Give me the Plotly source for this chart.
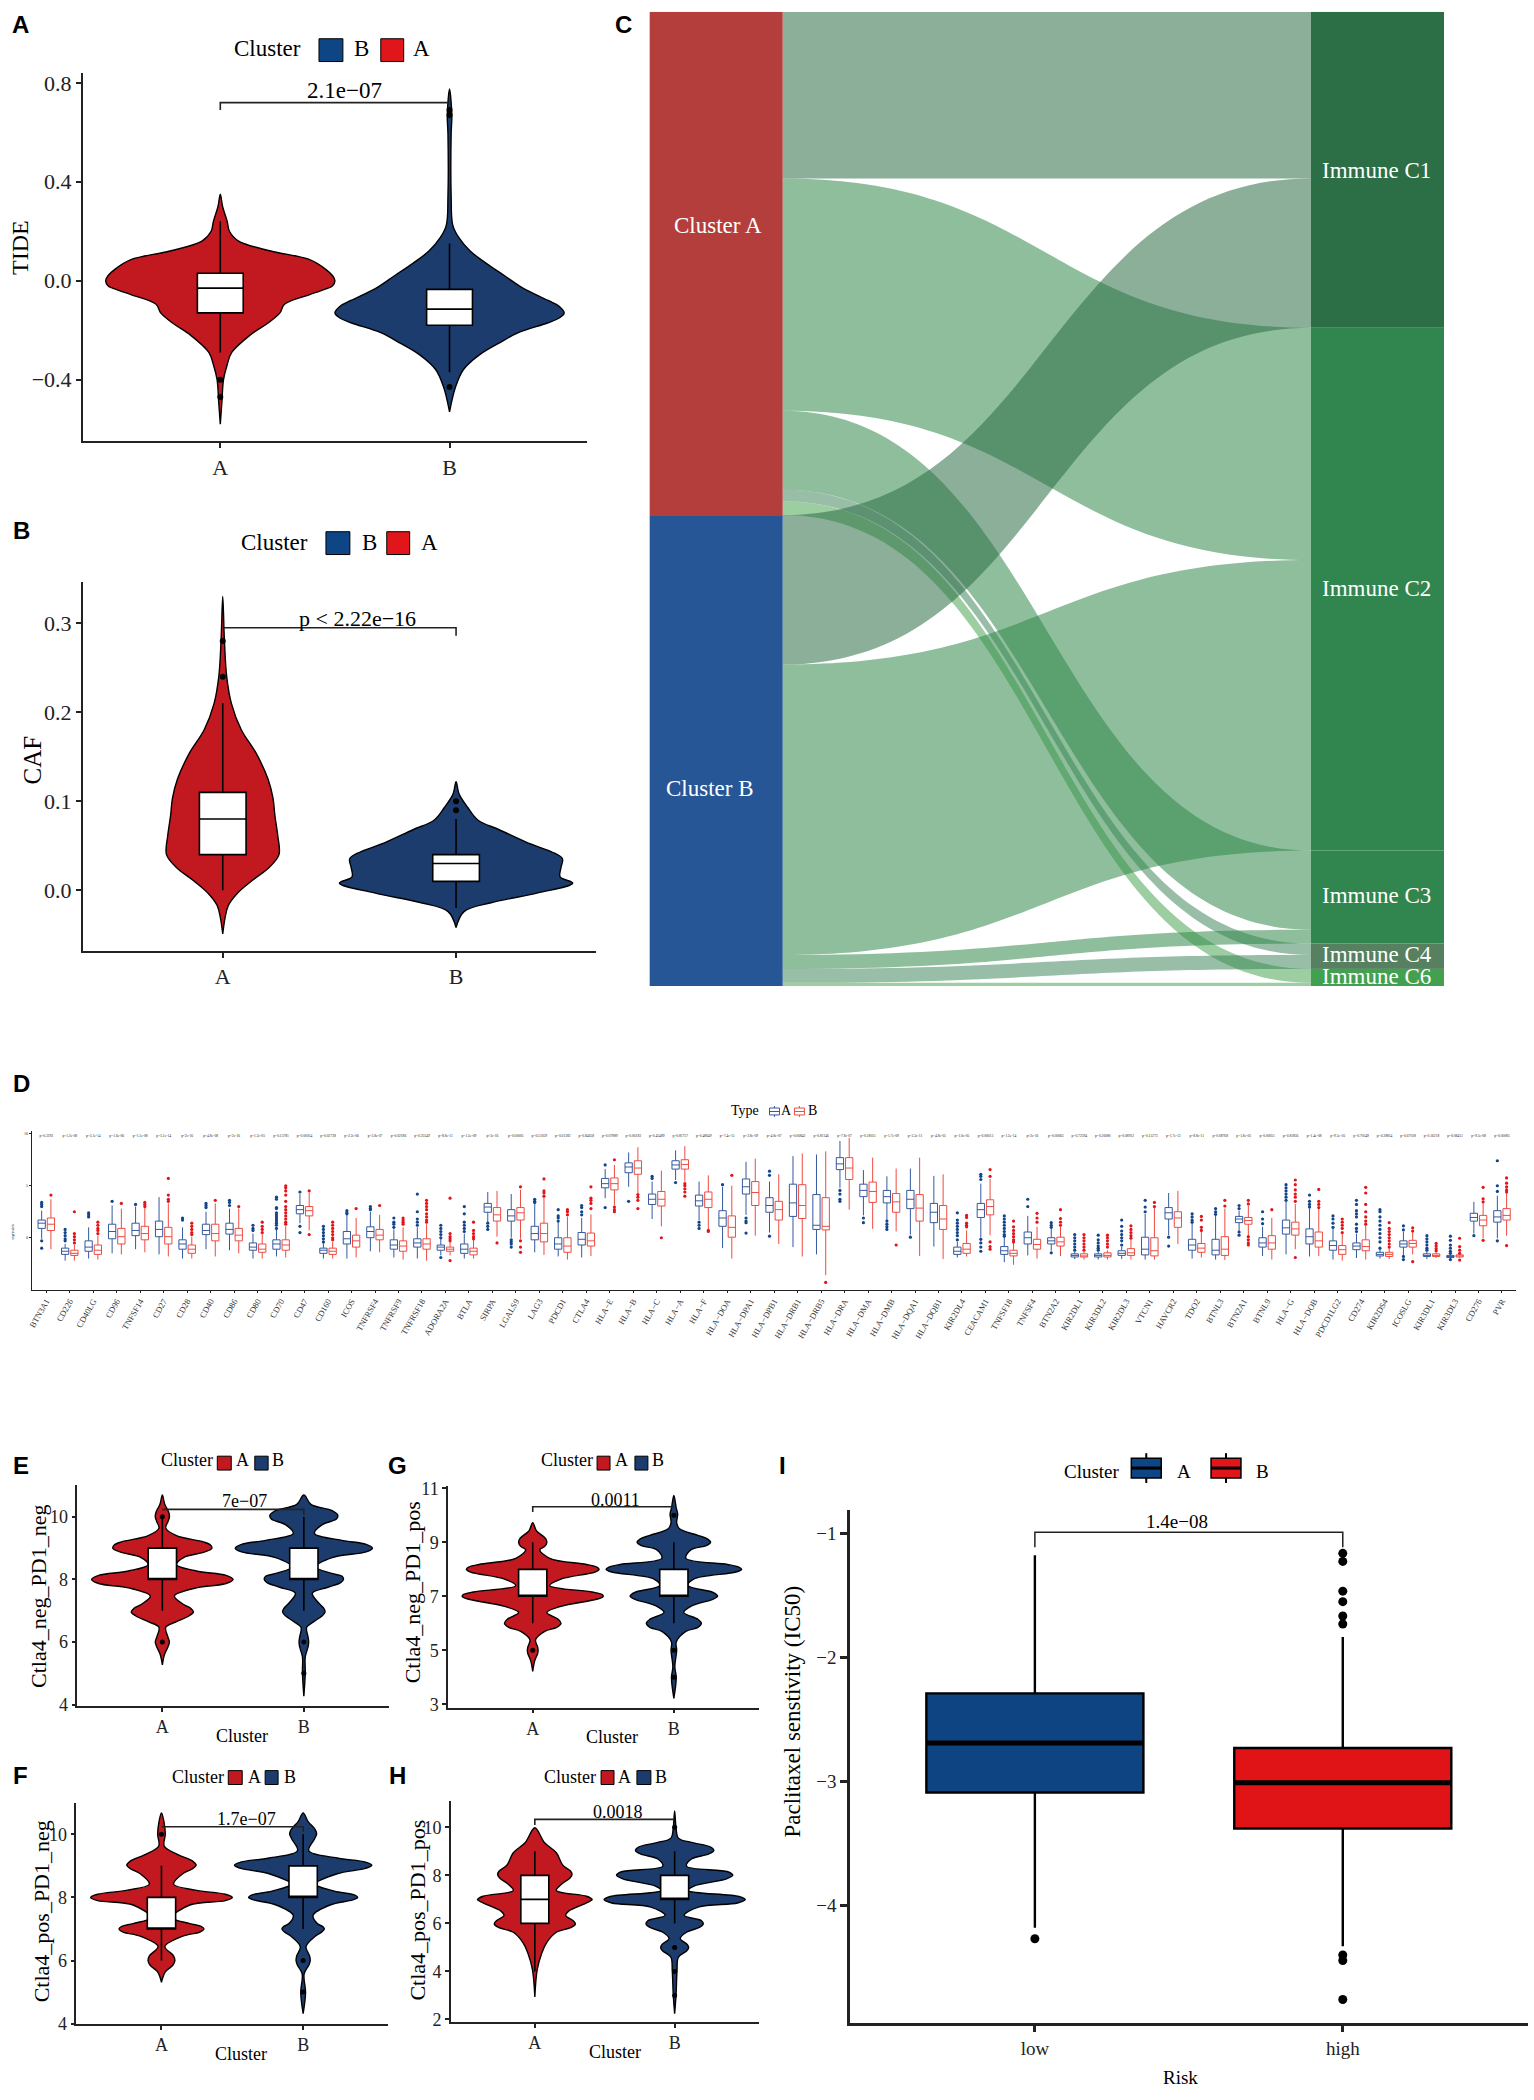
import plotly.graph_objects as go

W, H = 1534, 2100
SERIF = "Liberation Serif"
SANS = "Liberation Sans"
RED = "#C2181F"
NAVY = "#1D3C6E"
LEG_RED = "#E0161A"
LEG_BLUE = "#0E4585"

# ---------- Panel A (TIDE) ----------
A_A_Y = [.35, .30, .24, .20, .16, .12, .085, .046, .02, 0, -.02, -.04, -.056, -.095, -.13, -.17, -.22, -.29, -.34, -.40, -.49, -.58]
A_A_W = [0, .01, .03, .04, .08, .22, .39, .46, .49, .5, .49, .44, .39, .28, .26, .21, .13, .05, .03, .014, .007, 0]
A_B_Y = [.775, .67, .595, .34, .225, .175, .12, .07, .02, -.03, -.08, -.105, -.13, -.15, -.17, -.21, -.25, -.30, -.36, -.43, -.53]
A_B_W = [0, .01, .007, .007, .014, .04, .09, .16, .24, .32, .43, .48, .5, .48, .43, .3, .22, .13, .06, .026, 0]
A_BOX = [(.03, -.03, -.13, .24, -.29), (-.035, -.115, -.18, .15, -.37)]
A_OUT = [[-.40, -.47], [.67, .69, -.43]]

# ---------- Panel B (CAF) ----------
B_A_Y = [.33, .282, .24, .21, .18, .154, .125, .104, .083, .061, .04, .026, .011, -.003, -.017, -.031, -.049]
B_A_W = [0, .007, .017, .037, .08, .143, .194, .215, .224, .236, .241, .2, .126, .064, .024, .01, 0]
B_B_Y = [.122, .108, .093, .079, .068, .054, .036, .026, .015, .008, -.003, -.014, -.024, -.042]
B_B_W = [0, .013, .05, .093, .185, .3, .455, .45, .446, .5, .35, .15, .034, 0]
B_BOX = [(.11, .08, .04, .21, 0), (.04, .03, .01, .08, -.02)]
B_OUT = [[.28, .24], [.10, .09]]

# ---------- Panel E ----------
E_A_Y = [10.7, 10.4, 10.15, 10.0, 9.85, 9.64, 9.4, 9.2, 9.1, 9.0, 8.88, 8.7, 8.47, 8.27, 8.13, 8.0, 7.87, 7.73, 7.47, 7.2, 7.08, 6.96, 6.84, 6.65, 6.47, 6.15, 6.0, 5.85, 5.6, 5.27]
E_A_W = [0, .017, .045, .05, .04, .024, .1, .29, .34, .35, .3, .15, .1, .24, .45, .5, .45, .24, .085, .15, .2, .22, .19, .1, .024, .04, .05, .04, .015, 0]
E_B_Y = [10.7, 10.4, 10.2, 10.05, 9.93, 9.75, 9.47, 9.25, 9.12, 9, 8.88, 8.7, 8.4, 8.2, 8.1, 8, 7.9, 7.75, 7.56, 7.27, 7.08, 6.96, 6.84, 6.65, 6.47, 6.15, 6, 5.85, 5.53, 5.0, 4.27]
E_B_W = [0, .05, .2, .24, .23, .13, .075, .27, .44, .485, .44, .2, .085, .19, .27, .28, .26, .17, .06, .1, .14, .15, .13, .07, .02, .03, .034, .03, .01, .01, 0]
E_BOX = [(9, 8, 8, 10, 7), (9, 8, 8, 10, 7)]
E_OUT = [[6, 10], [6, 5]]

# ---------- Panel G ----------
G_A_Y = [9.73, 9.42, 9.15, 9, 8.85, 8.72, 8.41, 8.18, 8.08, 8, 7.9, 7.64, 7.4, 7.16, 7.07, 7, 6.9, 6.63, 6.4, 6.15, 6, 5.85, 5.7, 5.39, 5.12, 5, 4.88, 4.61, 4.22]
G_A_W = [0, .027, .09, .1, .085, .05, .12, .38, .455, .47, .44, .2, .12, .42, .49, .5, .46, .2, .1, .18, .2, .17, .085, .02, .035, .038, .035, .014, 0]
G_B_Y = [10.74, 10.27, 10.04, 9.73, 9.5, 9.26, 9.12, 9, 8.88, 8.72, 8.41, 8.18, 8.08, 8, 7.9, 7.64, 7.4, 7.16, 7.05, 7, 6.9, 6.63, 6.4, 6.15, 6, 5.85, 5.7, 5.31, 5, 4.38, 4, 3.22]
G_B_W = [0, .017, .027, .02, .04, .17, .24, .26, .23, .12, .085, .38, .46, .48, .44, .14, .1, .27, .305, .31, .28, .12, .07, .17, .195, .17, .085, .017, .02, .007, .017, 0]
G_BOX = [(8, 7, 7, 9, 6), (8, 7, 7, 9, 6)]
G_OUT = [[5], [10, 5, 4]]

# ---------- Panel F ----------
F_A_Y = [10.68, 10.41, 10.01, 9.62, 9.35, 9.15, 9.02, 8.9, 8.75, 8.42, 8.23, 8.1, 8, 7.9, 7.76, 7.36, 7.17, 7.08, 7, 6.9, 6.77, 6.44, 6.15, 6, 5.85, 5.64, 5.31]
F_A_W = [0, .017, .027, .02, .12, .22, .245, .215, .15, .085, .24, .45, .5, .45, .2, .075, .2, .28, .3, .27, .15, .024, .085, .095, .08, .027, 0]
F_B_Y = [10.68, 10.41, 10.15, 10.01, 9.85, 9.48, 9.25, 9.12, 9.02, 8.92, 8.75, 8.42, 8.2, 8.08, 8, 7.92, 7.76, 7.43, 7.17, 7.07, 7, 6.9, 6.77, 6.44, 6.15, 6, 5.85, 5.58, 4.98, 4.32]
F_B_W = [0, .034, .085, .095, .08, .04, .24, .44, .485, .44, .24, .085, .22, .36, .385, .35, .19, .07, .1, .14, .15, .13, .085, .02, .045, .05, .04, .007, .017, 0]
F_BOX = [(8, 7, 7, 9, 6), (9, 8, 8, 10, 7)]
F_OUT = [[10], [6, 5]]

# ---------- Panel H ----------
H_A_Y = [9.98, 9.37, 8.94, 8.42, 8.18, 8.03, 7.88, 7.63, 7.37, 7.13, 6.99, 6.85, 6.5, 6.33, 6.13, 5.98, 5.83, 5.63, 5.2, 4.77, 4.07, 2.94]
H_A_W = [0, .068, .154, .2, .255, .266, .25, .19, .154, .37, .41, .37, .24, .22, .27, .29, .26, .154, .085, .05, .017, 0]
H_B_Y = [10.68, 9.98, 9.55, 9.37, 9.17, 9.03, 8.88, 8.68, 8.38, 8.15, 8, 7.85, 7.55, 7.37, 7.12, 6.99, 6.85, 6.68, 6.33, 6.12, 5.98, 5.84, 5.63, 5.37, 5.12, 4.99, 4.85, 4.59, 4.02, 3.03, 2.24]
H_B_W = [0, .01, .027, .12, .26, .28, .24, .12, .085, .38, .416, .37, .137, .096, .46, .505, .45, .17, .068, .19, .205, .18, .085, .04, .09, .1, .085, .027, .017, .01, 0]
H_BOX = [(8, 7, 6, 9, 4), (8, 7, 7, 9, 6)]
H_OUT = [[], [10, 5, 4, 3]]

# ---------- Panel I ----------
I_BOX = [(-2.29, -2.69, -3.09, -1.175, -4.18), (-2.73, -3.01, -3.38, -1.835, -4.33)]
I_OUT = [[-4.27], [-1.16, -1.225, -1.465, -1.55, -1.665, -1.73, -4.40, -4.445, -4.76]]

# ---------- Panel C (alluvial) ----------
C_NODES = ["Cluster A", "Cluster B", "Immune C1", "Immune C2", "Immune C3", "Immune C4", "Immune C6"]
C_COLORS = ["#B43E3B", "#275697", "#2C6E45", "#30864E", "#30864E", "#568060", "#43A050"]
C_SOURCE = [0, 0, 0, 0, 0, 1, 1, 1, 1, 1]
C_TARGET = [2, 3, 4, 5, 6, 2, 3, 4, 5, 6]
C_VALUES = [263, 367, 125, 18, 22, 236, 459, 22, 22, 5]
C_LINK_COL = {2: "rgba(44,110,69,0.55)", 3: "rgba(49,136,75,0.55)", 4: "rgba(49,136,75,0.55)",
              5: "rgba(49,125,80,0.5)", 6: "rgba(75,166,83,0.55)"}

# ---------- Panel D ----------
GENES = ["BTN3A1", "CD226", "CD40LG", "CD96", "TNFSF14", "CD27", "CD28", "CD40", "CD86", "CD80", "CD70", "CD47",
         "CD160", "ICOS", "TNFRSF4", "TNFRSF9", "TNFRSF18", "ADORA2A", "BTLA", "SIRPA", "LGALS9", "LAG3", "PDCD1",
         "CTLA4", "HLA−E", "HLA−B", "HLA−C", "HLA−A", "HLA−F", "HLA−DOA", "HLA−DPA1", "HLA−DPB1", "HLA−DRB1",
         "HLA−DRB5", "HLA−DRA", "HLA−DMA", "HLA−DMB", "HLA−DQA1", "HLA−DQB1", "KIR2DL4", "CEACAM1", "TNFSF18",
         "TNFSF4", "BTN2A2", "KIR2DL1", "KIR3DL2", "KIR2DL3", "VTCN1", "HAVCR2", "TDO2", "BTNL3", "BTN2A1", "BTNL9",
         "HLA−G", "HLA−DOB", "PDCD1LG2", "CD274", "KIR2DS4", "ICOSLG", "KIR3DL1", "KIR3DL3", "CD276", "PVR"]
P_VALUES = ["p=0.3193", "p=1.2e-08", "p=3.1e-14", "p=1.6e-06", "p=1.1e-08", "p=5.1e-14", "p<2e-16", "p=4.8e-08",
            "p<2e-16", "p=1.2e-05", "p=0.15781", "p=0.00014", "p=0.02738", "p=2.2e-06", "p=3.8e-07", "p=0.02186",
            "p=0.25549", "p=8.8e-11", "p=1.5e-09", "p<2e-16", "p=0.00005", "p=0.51059", "p=0.01582", "p=0.84658",
            "p=0.07889", "p=0.00183", "p=0.45489", "p=0.81757", "p=0.48049", "p=7.4e-15", "p=2.8e-09", "p=4.8e-07",
            "p=0.06842", "p=0.81146", "p=7.8e-07", "p=0.18051", "p=1.7e-09", "p=3.3e-11", "p=4.8e-05", "p=1.0e-05",
            "p=0.00013", "p=1.5e-14", "p<2e-16", "p=0.00063", "p=0.72594", "p=0.26080", "p=0.08912", "p=0.11273",
            "p=1.7e-13", "p=8.8e-11", "p=0.08768", "p=1.8e-05", "p=0.00051", "p=0.81856", "p=1.4e-08", "p=9.5e-16",
            "p=0.70549", "p=0.38814", "p=0.67018", "p=0.16218", "p=0.08451", "p=9.5e-08", "p=0.00085"]
# each box: (q3, median, q1, upper whisker, lower whisker)
D_A_BOX = [(1.7, 1.4, .9, 2.6, -.1), (-1.0, -1.3, -1.6, -.6, -2.2), (-.3, -.9, -1.3, 1.0, -2.0), (1.3, .6, -.1, 3.1, -1.5),
           (1.4, .7, .2, 3.0, -1.1), (1.6, .8, .1, 3.9, -1.6), (-.2, -.6, -1.1, 1.0, -2.0), (1.3, .7, .3, 2.5, -1.1),
           (1.4, .8, .35, 2.8, -1.2), (-.5, -.9, -1.2, .4, -2.0), (-.2, -.6, -1.1, .8, -1.8), (3.1, 2.7, 2.3, 4.2, 1.4),
           (-1.0, -1.2, -1.5, -.5, -2.0), (.6, -.1, -.6, 2.2, -2.0), (1.05, .6, .0, 2.5, -1.3), (-.2, -.7, -1.1, .8, -1.9),
           (-.1, -.5, -.9, 1.0, -2.0), (-.7, -.9, -1.2, -.1, -1.7), (-.6, -1.1, -1.5, .4, -2.0), (3.3, 2.95, 2.45, 4.4, 1.5),
           (2.7, 2.1, 1.6, 4.2, 0), (1.1, .4, -.2, 3.3, -1.4), (0, -.6, -1.1, 1.5, -1.8), (.5, -.15, -.7, 1.9, -1.9),
           (5.7, 5.2, 4.8, 6.6, 3.8), (7.2, 6.8, 6.25, 8.2, 4.9), (4.2, 3.7, 3.2, 5.4, 1.8), (7.4, 7.0, 6.6, 8.4, 5.55),
           (4.1, 3.55, 3.05, 5.4, 1.7), (2.6, 1.9, 1.1, 4.9, -1.0), (5.65, 4.9, 4.2, 7.3, 2.2), (3.85, 3.1, 2.45, 5.4, .5),
           (5.15, 3.35, 2.05, 7.85, -.9), (4.15, 1.2, .8, 8.0, -1.6), (7.7, 7.1, 6.55, 9.3, 4.8), (5.15, 4.55, 3.95, 6.5, 2.15),
           (4.55, 3.95, 3.35, 5.9, 1.7), (4.55, 3.7, 2.8, 6.65, .3), (3.3, 2.45, 1.45, 5.95, -.85), (-.9, -1.3, -1.6, -.4, -1.9),
           (3.3, 2.7, 1.95, 5.2, 0), (-.85, -1.25, -1.6, .1, -2.35), (.55, 0, -.6, 2.1, -1.7), (0, -.3, -.6, .9, -1.25),
           (-1.55, -1.7, -1.85, -1.35, -2.05), (-1.55, -1.7, -1.85, -1.35, -2.1), (-1.25, -1.5, -1.7, -.85, -2.05),
           (.05, -1.1, -1.65, 2.3, -2.1), (2.9, 2.4, 1.8, 4.3, .25), (-.15, -.7, -1.2, 1.45, -2.0), (-.15, -1.2, -1.65, 2.15, -2.1),
           (2.05, 1.8, 1.45, 2.6, .65), (0, -.5, -.9, 1.05, -1.75), (1.7, .95, .35, 3.5, -1.6), (.85, .1, -.6, 2.8, -1.8),
           (-.3, -.75, -1.2, .9, -2.1), (-.5, -.8, -1.15, .4, -1.95), (-1.4, -1.6, -1.75, -1.1, -2.0), (-.3, -.6, -.9, .55, -1.65),
           (-1.55, -1.7, -1.8, -1.35, -2.05), (-1.7, -1.8, -1.9, -1.55, -2.05), (2.35, 1.95, 1.6, 3.45, .4), (2.6, 2.0, 1.5, 4.05, -.05)]
D_B_BOX = [(1.9, 1.3, .7, 3.7, -1.1), (-1.2, -1.5, -1.7, -.7, -2.2), (-.7, -1.2, -1.6, .2, -2.1), (.9, .1, -.6, 2.8, -1.6),
           (1.1, .4, -.2, 2.9, -1.4), (1.0, .1, -.6, 3.3, -1.8), (-.7, -1.1, -1.5, .1, -2.0), (1.3, .4, -.3, 3.3, -1.8),
           (.9, .25, -.3, 2.8, -1.5), (-.6, -1.1, -1.4, .4, -2.0), (-.2, -.7, -1.2, 1.1, -1.9), (3.0, 2.6, 2.1, 4.3, .7),
           (-1.0, -1.3, -1.6, -.4, -2.0), (.25, -.3, -.9, 1.9, -1.9), (.8, .25, -.2, 2.2, -1.4), (-.3, -.8, -1.3, 1.0, -2.1),
           (-.1, -.6, -1.1, 1.3, -2.2), (-.9, -1.1, -1.3, -.4, -1.7), (-1.0, -1.3, -1.65, -.2, -2.0), (2.9, 2.2, 1.6, 4.5, .1),
           (2.9, 2.4, 1.7, 4.6, -.1), (1.4, .4, -.4, 3.9, -1.65), (0, -.8, -1.4, 2.0, -2.1), (.45, -.3, -.8, 2.25, -1.75),
           (5.75, 5.2, 4.6, 7.0, 3.1), (7.4, 6.7, 6.1, 8.7, 4.3), (4.45, 3.7, 3.05, 6.45, 1.1), (7.5, 7.05, 6.6, 8.8, 5.4),
           (4.4, 3.7, 2.9, 6.0, .8), (2.1, 1.0, .05, 5.0, -2.0), (5.4, 4.35, 3.1, 7.6, .2), (3.5, 2.7, 1.7, 6.1, -.6),
           (5.1, 3.1, 1.85, 8.1, -1.8), (3.85, 1.1, .75, 8.3, -3.6), (7.7, 6.7, 5.6, 9.6, 2.7), (5.35, 4.45, 3.4, 7.7, .85),
           (4.25, 3.45, 2.45, 6.65, .6), (4.15, 2.85, 1.6, 7.7, -1.75), (3.1, 1.8, .8, 6.1, -2.05), (-.55, -1.1, -1.5, .7, -1.8),
           (3.65, 3.0, 2.2, 5.65, .25), (-1.2, -1.5, -1.75, -.45, -2.6), (-.15, -.65, -1.1, 1.05, -2.0), (.05, -.4, -.8, 1.05, -1.75),
           (-1.55, -1.75, -1.85, -1.35, -2.1), (-1.45, -1.7, -1.85, -1.2, -2.1), (-1.05, -1.45, -1.7, -.2, -2.1),
           (0, -1.25, -1.75, 3.0, -2.1), (2.5, 1.9, 1.0, 4.5, -.6), (-.55, -1.0, -1.4, .65, -1.9), (.1, -1.1, -1.7, 2.8, -2.15),
           (1.95, 1.65, 1.3, 3.1, .25), (.2, -.5, -1.1, 1.9, -2.1), (1.5, .85, .25, 3.25, -1.1), (.55, -.3, -.9, 2.8, -1.75),
           (-.75, -1.15, -1.6, .4, -2.2), (-.2, -.85, -1.25, 1.2, -2.1), (-1.4, -1.6, -1.8, -1.0, -2.05), (-.25, -.55, -.9, .55, -1.6),
           (-1.55, -1.7, -1.8, -1.35, -1.95), (-1.65, -1.8, -1.85, -1.5, -1.95), (2.15, 1.7, 1.15, 3.35, -.05), (2.8, 2.15, 1.7, 4.3, .2)]
D_A_OUT = [[3.4, 3.2, 3.0, -.3, -1.0], [.8, .5, .2, -.1, -.3], [2.4, 2.2, 2.0], [3.5], [3.2], [], [1.9, 1.7],
           [3.3, 3.1, 2.9], [3.6, 3.4, 3.1], [1.2, .9, .7], [3.9, 3.7, 2.9, 2.8, 2.4, 2.2, 2.0, 1.8, 1.6, 1.4, 1.2, .9],
           [4.4, 1.1, .5], [1.1, .8, .5, .2, -.1, -.4], [2.6, 2.4, 2.3], [3.0, 2.8, 2.7], [1.9, 1.5, 1.3, 1.0],
           [4.2, 2.5, 1.8, 1.5, 1.2], [1.2, .9, .6, .3, 0, -1.9], [3.0, 2.3, 1.5, 1.2, .9, .6], [1.4, 1.1, .8],
           [-.2, -.4, -.6, -.9], [3.7, 3.5, 3.4], [2.7, 2.1, 1.9, 1.6], [3.1, 2.9, 2.5, 2.2], [7.0, 2.9], [3.5], [5.9, 5.7],
           [5.3], [1.5, 1.2, .9], [5.1], [1.9, 1.6, 1.45, .45], [6.4, 6.0, .15], [], [], [4.55, 4.2, 3.7, 3.5], [1.9, 1.45],
           [1.6, 1.3, 1.05, .8], [.05], [], [2.4, 1.7, 1.4, 1.1, .8, .5, .2, -.2], [6.1, 5.9, 5.6, -.15, -.5, -.9, -1.3],
           [2.1, 1.8, 1.5, 1.2, .9, .6, .3, .15], [3.7, 3.0], [1.45, 1.2, 1.0, -1.45], [.3, 0, -.3, -.6, -.9, -1.2],
           [.25, -.2, -.5, -.8, -1.0, -1.2], [1.7, 1.1, .65, .3, 0, -.3, -.7], [3.6, 2.95, 2.5], [.05, -.8], [2.3, 2.0, 1.7, 1.5],
           [2.8, 2.5, 2.25], [3.1, 2.8, .55, .25], [2.5, 1.8, 1.35], [5.1, 4.8, 4.5, 4.2, 3.9, 3.6], [4.1, 3.5, 3.2, 2.95],
           [2.1, 1.8, 1.4, 1.0], [3.6, 3.2, 2.6, 2.3, 2.0, 1.3, .9, .6], [2.7, 2.5, 2.0, 1.6, 1.2, .8, .4, 0, -.4, -1.0],
           [1.15, .75, -1.8, -2.1], [.2, -.1, -.4, -.7, -1.0, -1.2], [.15, -.25, -.7, -1.0, -1.3, -1.5, -2.1], [.2], [7.4, 5.0, 4.45, -.3]]
D_B_OUT = [[4.1], [2.5, .4, .1, -.2, -.5], [1.5, 1.2, .9, .7, .4], [3.3], [3.4, 3.2, 3.0], [5.7, 4.1, 3.7, 3.5],
           [1.4, 1.1, .8, .5, .3], [3.6], [3.0], [1.5, 1.1, .8, .5], [5.0, 4.8, 4.5, 4.1, 3.5, 3.0, 2.7, 2.4, 2.1, 1.8, 1.5, 1.3],
           [4.5, .3], [1.5, 1.2, .9, .6, .3, 0, -.2], [2.8], [3.1], [1.9, 1.7, 1.5, 1.3], [3.6, 3.3, 3.0, 2.7, 2.3, 2.0, 1.7, 1.5],
           [3.8, .4, .1, -.1, -.3, -2.2], [1.5, .7, .4, .1, -.1], [-.5], [4.9, -.3, -.9, -1.4], [5.65, 4.5, 4.3, 4.0],
           [2.7, 2.5, 2.2], [4.9, 3.8, 3.6, 3.3, 2.8], [7.5, 2.95, 2.7, 2.5], [4.15, 3.9, 3.6, 2.8], [0],
           [5.2, 5.0, 4.7, 4.4, 4.0], [.7, .6], [6.0], [], [], [], [-4.3], [], [], [-.7], [], [],
           [2.15, 1.95, 1.4, 1.2, 1.05], [6.55, 5.9, -.4, -.85, -1.1], [1.6, 1.05, .7, .4, .1, -.2, -.4],
           [2.35, 1.9, 1.5], [2.7, 1.85, 1.5, 1.2], [.3, 0, -.3, -.6, -.9, -1.2], [.25, 0, -.3, -.6, -.9],
           [1.15, .8, .5, .2, -.05], [3.4, 3.0], [], [2.05, 1.7, 1.0, .7], [3.6, 3.05], [3.6, 3.25, .1, -.2, -.5, -.7], [2.7],
           [5.55, 5.1, 4.6, 4.2, 3.9, 3.5, -1.9], [4.65, 3.5, 3.2, 2.9], [1.8, 1.5, 1.2, .9, .5],
           [4.85, 4.3, 3.2, 2.5, 2.0, 1.6, 1.3], [1.45, .9, .6, .3, 0, -.3, -.6, -.9], [.95, .65, -2.3],
           [-.55, -.8, -1.05, -1.25], [-.05, -.85, -1.2, -1.5, -2.15], [4.85, 3.75, 3.45, -.25], [5.75, 5.25, 4.9, 4.6, 4.4, -.75]]

# ---------- helpers ----------
fig = go.Figure()
shapes, annots = [], []
FX = lambda x: x / W
FY = lambda y: 1 - y / H


def text(x, y, s, size, color="black", angle=0, family=SERIF, bold=False):
    annots.append(dict(x=FX(x), y=FY(y), xref="paper", yref="paper", text=f"<b>{s}</b>" if bold else s,
                       showarrow=False, xanchor="center", yanchor="middle", textangle=angle,
                       font=dict(family=family, size=size, color=color)))


def rect(l, t, r, b, fill, line="black", lw=1):
    shapes.append(dict(type="rect", xref="paper", yref="paper", x0=FX(l), x1=FX(r), y0=FY(b), y1=FY(t),
                       fillcolor=fill, line=dict(color=line, width=lw)))


def seg(x0, y0, x1, y1, color, lw=1):
    shapes.append(dict(type="line", xref="paper", yref="paper", x0=FX(x0), x1=FX(x1), y0=FY(y0), y1=FY(y1),
                       line=dict(color=color, width=lw)))


def panel(i, box, xr, yr, xt, xl, yt, tick=20, lw=1.5, tlen=5, yfmt=None):
    l, t, r, b = box
    dx, dy = [l / W, r / W], [1 - b / H, 1 - t / H]
    font = dict(family=SERIF, size=tick, color="#222")
    fig.layout[f"xaxis{i}"] = dict(domain=dx, range=xr, anchor=f"y{i}", showline=True, linecolor="#222", linewidth=lw,
                                   tickvals=xt, ticktext=xl, ticks="outside", ticklen=tlen, tickwidth=lw, tickcolor="#222",
                                   showgrid=False, zeroline=False, tickfont=font)
    fig.layout[f"yaxis{i}"] = dict(domain=dy, range=yr, anchor=f"x{i}", showline=True, linecolor="#222", linewidth=lw,
                                   tickvals=yt, ticks="outside", ticklen=tlen, tickwidth=lw, tickcolor="#222",
                                   showgrid=False, zeroline=False, tickfont=font, tickformat=yfmt)
    j = i + 20
    fig.layout[f"xaxis{j}"] = dict(domain=dx, range=xr, anchor=f"y{j}", overlaying=f"x{i}", visible=False)
    fig.layout[f"yaxis{j}"] = dict(domain=dy, range=yr, anchor=f"x{j}", overlaying=f"y{i}", visible=False)
    # keeps the base axes registered when a panel draws only on its overlay pair
    fig.add_trace(go.Scatter(x=[xt[0]], y=[yt[0]], mode="markers", marker=dict(opacity=0, size=1),
                             xaxis=f"x{i}", yaxis=f"y{i}", hoverinfo="skip"))


def violin(i, cx, ys, ws, color):
    fig.add_trace(go.Scatter(x=[cx + w for w in ws] + [cx - w for w in reversed(ws)], y=list(ys) + list(reversed(ys)),
                             mode="lines", line=dict(color="black", width=1.4, shape="spline", smoothing=1.0),
                             fill="toself", fillcolor=color, xaxis=f"x{i}", yaxis=f"y{i}", hoverinfo="skip"))


def boxes(i, boxlist, outs, bw=.2, fill="white", lw=1.6, ms=6):
    j = i + 20
    for cx, bx in enumerate(boxlist):
        q3, med, q1, hi, lo = bx
        fig.add_trace(go.Box(x=[cx], q1=[q1], median=[med], q3=[q3], upperfence=[hi], lowerfence=[lo], width=bw,
                             whiskerwidth=0, fillcolor=fill[cx] if isinstance(fill, list) else fill,
                             line=dict(color="black", width=lw), boxpoints=False, xaxis=f"x{j}", yaxis=f"y{j}"))
    for cx, o in enumerate(outs):
        if o:
            fig.add_trace(go.Scatter(x=[cx] * len(o), y=o, mode="markers", marker=dict(color="black", size=ms),
                                     xaxis=f"x{j}", yaxis=f"y{j}", hoverinfo="skip"))


def bracket(i, top, tip_l, tip_r, lw=1.6):
    j = i + 20
    fig.add_trace(go.Scatter(x=[0, 0, 1, 1], y=[tip_l, top, top, tip_r], mode="lines",
                             line=dict(color="#222", width=lw), xaxis=f"x{j}", yaxis=f"y{j}", hoverinfo="skip"))


XT, XL = [0, 1], ["A", "B"]
XR = [-.6, 1.6]

# Panel A
panel(2, (78, 67, 584, 438), XR, [-.65, .838], XT, XL, [-.4, 0, .4, .8], tick=22, yfmt=".1f")
violin(2, 0, A_A_Y, A_A_W, RED); violin(2, 1, A_B_Y, A_B_W, NAVY)
boxes(2, A_BOX, A_OUT); bracket(2, .72, .69, .72)
text(341, 84, "2.1e−07", 23)
text(15, 242, "TIDE", 24, angle=-90)
# Panel B
panel(3, (78, 580, 593, 951.5), XR, [-.068, .346], XT, XL, [0, .1, .2, .3], tick=22, yfmt=".1f")
violin(3, 0, B_A_Y, B_A_W, RED); violin(3, 1, B_B_Y, B_B_W, NAVY)
boxes(3, B_BOX, B_OUT); bracket(3, .295, .295, .286)
text(354, 616, "p &lt; 2.22e−16", 22)
text(27.7, 759, "CAF", 25, angle=-90)
# Panel E
panel(4, (72.7, 1489.7, 385, 1712.7), XR, [3.96, 11.03], XT, XL, [4, 6, 8, 10], tick=18, tlen=4)
violin(4, 0, E_A_Y, E_A_W, RED); violin(4, 1, E_B_Y, E_B_W, NAVY)
boxes(4, E_BOX, E_OUT, ms=5); bracket(4, 10.24, 10.24, 10.07)
text(240, 1506.5, "7e−07", 18); text(33, 1602, "Ctla4_neg_PD1_neg", 22, angle=-90); text(237.5, 1743, "Cluster", 18)
# Panel G
panel(5, (444.5, 1491, 756, 1714.4), XR, [2.88, 11.09], XT, XL, [3, 5, 7, 9, 11], tick=18, tlen=4)
violin(5, 0, G_A_Y, G_A_W, RED); violin(5, 1, G_B_Y, G_B_W, NAVY)
boxes(5, G_BOX, G_OUT, ms=5); bracket(5, 10.32, 10.12, 10.32)
text(612, 1505, "0.0011", 18); text(408.6, 1598, "Ctla4_neg_PD1_pos", 22, angle=-90); text(609, 1744, "Cluster", 18)
# Panel F
panel(6, (71.7, 1810.4, 384.4, 2033.4), XR, [3.99, 11.0], XT, XL, [4, 6, 8, 10], tick=18, tlen=4)
violin(6, 0, F_A_Y, F_A_W, RED); violin(6, 1, F_B_Y, F_B_W, NAVY)
boxes(6, F_BOX, F_OUT, ms=5); bracket(6, 10.24, 10.24, 10.07)
text(242, 1827, "1.7e−07", 18); text(37, 1920, "Ctla4_pos_PD1_neg", 22, angle=-90); text(236.5, 2064, "Cluster", 18)
# Panel H
panel(7, (447.4, 1809, 756, 2031.3), XR, [1.9, 11.08], XT, XL, [2, 4, 6, 8, 10], tick=18, tlen=4)
violin(7, 0, H_A_Y, H_A_W, RED); violin(7, 1, H_B_Y, H_B_W, NAVY)
boxes(7, H_BOX, H_OUT, ms=5); bracket(7, 10.33, 10.1, 10.33)
text(615, 1820, "0.0018", 18); text(414, 1918.5, "Ctla4_pos_PD1_pos", 22, angle=-90); text(612, 2062, "Cluster", 18)
# Panel I
panel(8, (847.9, 1515, 1527.5, 2032), XR, [-4.946, -.808], [0, 1], ["low", "high"], [-1, -2, -3, -4], tick=19, lw=2.5, tlen=7)
boxes(8, I_BOX, I_OUT, bw=.705, fill=["#0F4482", "#E01316"], lw=2.4, ms=9)
for cx, bx in enumerate(I_BOX):
    fig.add_trace(go.Scatter(x=[cx - .3525, cx + .3525], y=[bx[1], bx[1]], mode="lines", line=dict(color="black", width=5),
                             xaxis="x28", yaxis="y28", hoverinfo="skip"))
bracket(8, -.99, -1.11, -1.11, lw=1.5)
text(1176, 1527, "1.4e−08", 19); text(790, 1718, "Paclitaxel senstivity (IC50)", 23, angle=-90); text(1179.5, 2087, "Risk", 19)

# Panel D
panel(9, (27.3, 1133.3, 1516, 1293), [-.6, 62.6], [-4.98, 10.25], list(range(len(GENES))), GENES, [0, 5, 10], tick=4, lw=1, tlen=2.5)
fig.layout.xaxis9.tickangle = -60
fig.layout.xaxis9.tickfont = dict(family=SERIF, size=8.5, color="#333")
for off, stats, outs, lc, oc in [(-.197, D_A_BOX, D_A_OUT, "#34599E", "#12458A"), (.197, D_B_BOX, D_B_OUT, "#EE4B40", "#E3141B")]:
    xs = [k + off for k in range(len(GENES))]
    fig.add_trace(go.Box(x=xs, q3=[s[0] for s in stats], median=[s[1] for s in stats], q1=[s[2] for s in stats],
                         upperfence=[s[3] for s in stats], lowerfence=[s[4] for s in stats], width=.31, whiskerwidth=0,
                         fillcolor="white", line=dict(color=lc, width=1), boxpoints=False, xaxis="x29", yaxis="y29"))
    ox, oy = [], []
    for x, o in zip(xs, outs):
        ox += [x] * len(o)
        oy += o
    fig.add_trace(go.Scatter(x=ox, y=oy, mode="markers", marker=dict(color=oc, size=3.2), xaxis="x29", yaxis="y29", hoverinfo="skip"))
fig.add_trace(go.Scatter(x=list(range(len(GENES))), y=[9.78] * len(GENES), mode="text", text=P_VALUES,
                         textfont=dict(family=SERIF, size=3.6, color="#222"), xaxis="x29", yaxis="y29", hoverinfo="skip"))
text(8.5, 1235, "expression", 3.5, angle=-90)
text(742, 1113, "Type", 14); text(784, 1113, "A", 14); text(810, 1113, "B", 14)
for l, c in [(767, "#34599E"), (792, "#EE4B40")]:
    seg(l + 5, 1108, l + 5, 1119, c)
    rect(l, 1110, l + 10, 1117, "white", c, 1)
    seg(l, 1113.5, l + 10, 1113.5, c)

# Panel C
tot = {}
for s, t, v in zip(C_SOURCE, C_TARGET, C_VALUES):
    tot[s] = tot.get(s, 0) + v
    tot[t] = tot.get(t, 0) + v
grand = sum(C_VALUES)
ny = [0] * 7
acc = 0
for n in (0, 1):
    ny[n] = (acc + tot[n] / 2) / grand
    acc += tot[n]
acc = 0
for n in (2, 3, 4, 5, 6):
    ny[n] = (acc + tot[n] / 2) / grand
    acc += tot[n]
fig.add_trace(go.Sankey(domain=dict(x=[FX(647), FX(1443.5)], y=[FY(987), FY(5)]), arrangement="fixed",
                        node=dict(pad=0, thickness=133, line=dict(width=0), label=[""] * 7, color=C_COLORS,
                                  x=[.0835, .0835, .9165, .9165, .9165, .9165, .9165], y=ny),
                        link=dict(source=C_SOURCE, target=C_TARGET, value=C_VALUES,
                                  color=[C_LINK_COL[t] for t in C_TARGET]), hoverinfo="skip"))
for n, (x, y) in zip(C_NODES, [(715, 220.7), (707, 788), (1376, 164.5), (1376, 586.7), (1376, 896), (1376, 955), (1376, 977)]):
    text(x, y, n, 23, color="white")

# Legends
for y, t, b, items in [(42, 32, 55, [(263, 315, 339, 358, 377, 400, 418)]), (540, 529, 552, [(270, 322, 346, 366, 383, 406, 426)])]:
    cl, l1, r1, tb, l2, r2, ta = items[0]
    text(cl, y, "Cluster", 23); rect(l1, t, r1, b, LEG_BLUE); text(tb, y, "B", 23); rect(l2, t, r2, b, LEG_RED); text(ta, y, "A", 23)
for y, t, b, it in [(1465, 1461, 1475, (183, 213, 227, 238, 250.6, 264, 274)), (1465, 1461, 1475, (564, 594, 607, 619, 632, 645, 655)),
                    (1784, 1778, 1792, (194, 224, 238, 250, 261, 274, 285.5)), (1784, 1778, 1792, (567, 598, 611, 622, 634, 648, 658))]:
    cl, l1, r1, ta, l2, r2, tb = it
    text(cl, y, "Cluster", 18); rect(l1, t, r1, b, RED); text(ta, y, "A", 18); rect(l2, t, r2, b, NAVY); text(tb, y, "B", 18)
text(1090.7, 1476.6, "Cluster", 19); text(1183, 1476.6, "A", 19); text(1262, 1476.6, "B", 19)
for l, c in [(1130, LEG_BLUE), (1210, LEG_RED)]:
    seg(l + 15, 1458, l + 15, 1488, "black", 2)
    rect(l, 1463, l + 30, 1483, c, "black", 1.5)
    seg(l, 1473, l + 30, 1473, "black", 3)

# Panel letters
for s, x, y in [("A", 16, 18), ("B", 16.6, 528), ("C", 621, 18), ("D", 17, 1085), ("E", 16, 1470), ("F", 15.5, 1783),
                ("G", 394, 1470), ("H", 394, 1783), ("I", 780, 1470)]:
    text(x, y, s, 24, family=SANS, bold=True)

fig.update_layout(width=W, height=H, margin=dict(l=0, r=0, t=0, b=0), showlegend=False, paper_bgcolor="white",
                  plot_bgcolor="white", shapes=shapes, annotations=annots, boxmode="overlay",
                  font=dict(family=SERIF))
POST = ("document.documentElement.style.margin='0';document.body.style.margin='0';document.body.style.padding='0';"
        "var d=document.querySelector('.plotly-graph-div');d.style.position='absolute';d.style.top='0';d.style.left='0';")
fig.write_html("out.html", post_script=POST, config={"displayModeBar": False})
